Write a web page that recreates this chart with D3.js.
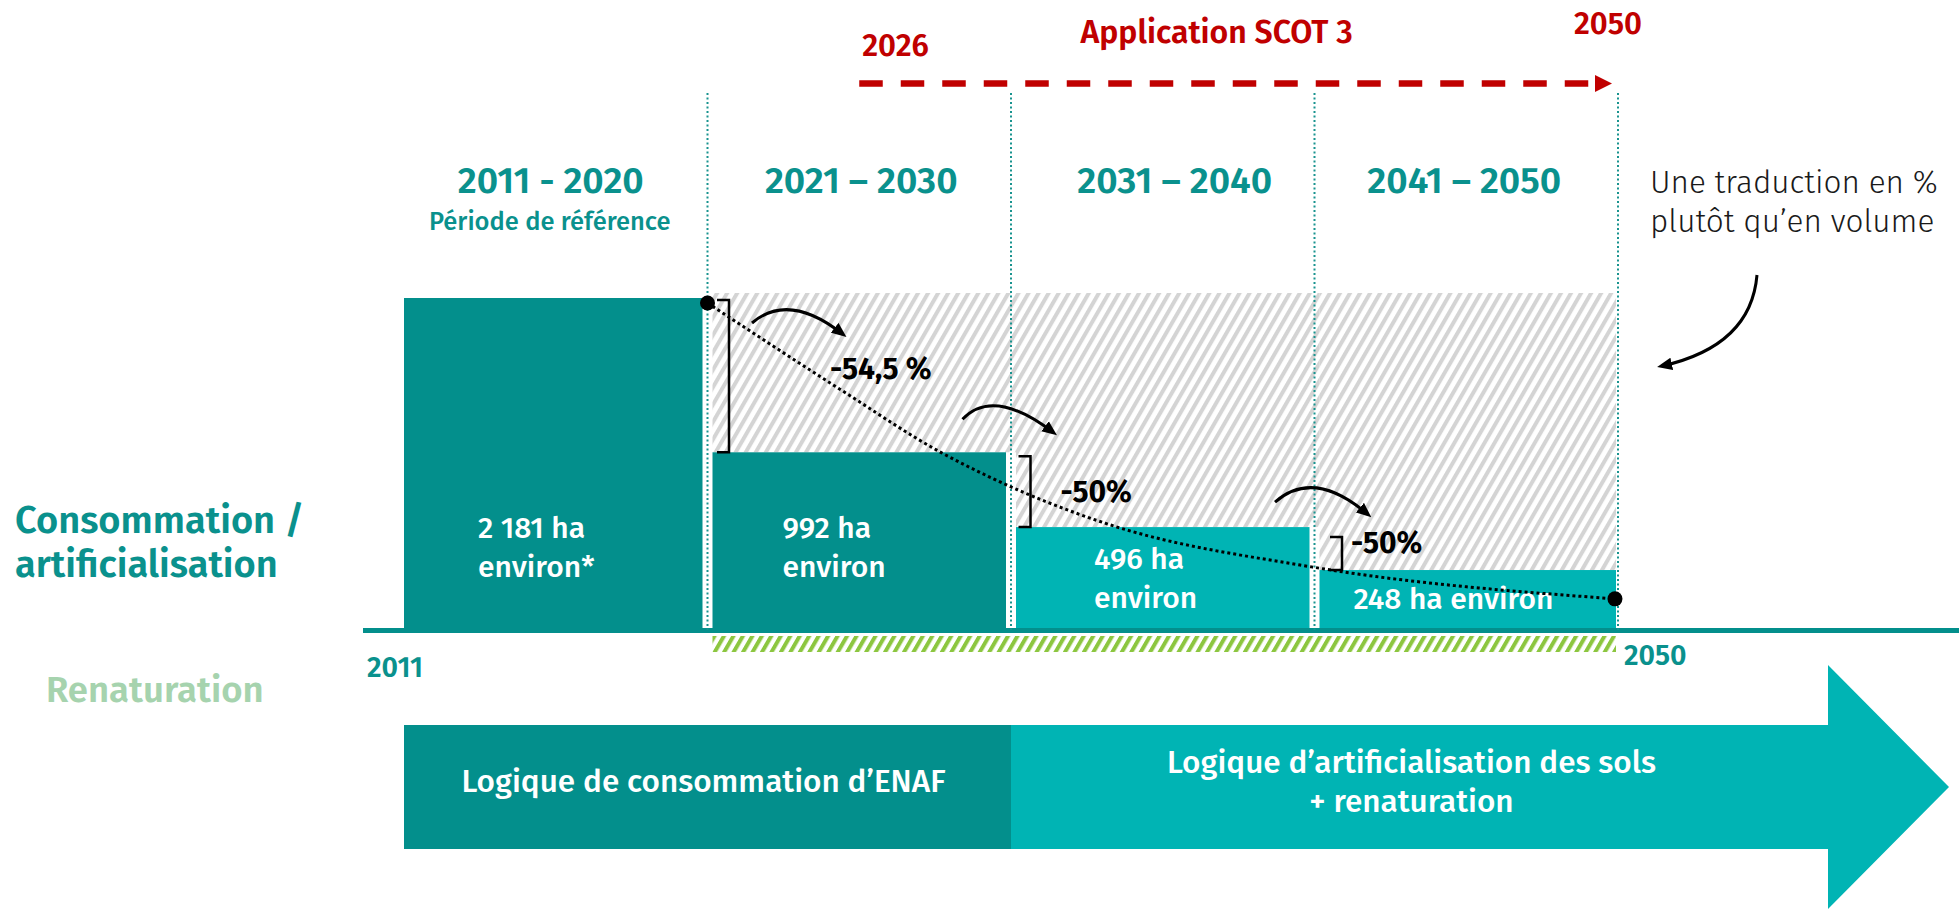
<!DOCTYPE html>
<html>
<head>
<meta charset="utf-8">
<script src="https://cdn.jsdelivr.net/npm/d3@7"></script>
<style>
    body { margin: 0; background: #fff; }
    svg { display: block; font-family: "Fira Sans", "Noto Sans", sans-serif; }
</style>
</head>
<body>
<svg width="1959" height="909"></svg>
<script>
// decades and consumption (ha)
const periodLabels = ["2011 - 2020", "2021 – 2030", "2031 – 2040", "2041 – 2050"];
const periodStart = [2011, 2021, 2031, 2041];
const periodEnd = [2021, 2031, 2041, 2051];
const hectares = [2181, 992, 496, 248];
const barText = [["2 181 ha", "environ*"], ["992 ha", "environ"], ["496 ha", "environ"], ["248 ha environ"]];
const reductions = ["-54,5 %", "-50%", "-50%"];

// dotted trend curve
const trendYears = [2021, 2025.4, 2028.7, 2030.3, 2034.1, 2040.9, 2050.9];
const trendValues = [2140, 1450, 990, 820, 520, 265, 105];

const scotYears = [2026, 2050];
const phaseYears = [2011, 2031];
const phaseText = [["Logique de consommation d’ENAF"], ["Logique d’artificialisation des sols", "+ renaturation"]];

function render_chart()
{
    let svg = d3.select("svg");
    let width = +svg.attr("width");

    let teal_dark = "#038f8c";
    let teal_light = "#00b4b4";
    let teal_text = "#0a918d";
    let red = "#c00000";

    let x = d3.scaleLinear().domain([2011, 2051]).range([404, 1618]);
    let y = d3.scalePow().exponent(0.8).domain([0, 2181]).range([628, 298]);
    let base = y(0);

    let defs = svg.append("defs");
    defs.append("pattern")
        .attr("id", "hatch-grey")
        .attr("patternUnits", "userSpaceOnUse")
        .attr("width", 8.7).attr("height", 20)
        .attr("patternTransform", "rotate(30)")
        .append("rect").attr("width", 4).attr("height", 20).attr("fill", "#d4d4d4");
    defs.append("pattern")
        .attr("id", "hatch-green")
        .attr("patternUnits", "userSpaceOnUse")
        .attr("width", 8.2).attr("height", 20)
        .attr("patternTransform", "rotate(30)")
        .append("rect").attr("width", 4).attr("height", 20).attr("fill", "#8cc63f");
    defs.append("marker")
        .attr("id", "head")
        .attr("viewBox", "0 -5 12 10")
        .attr("refX", 8).attr("refY", 0)
        .attr("markerUnits", "userSpaceOnUse")
        .attr("markerWidth", 15).attr("markerHeight", 13)
        .attr("orient", "auto")
        .append("path").attr("d", "M0,-5L12,0L0,5Z").attr("fill", "#000");

    let bx0 = i => x(periodStart[i]) + (i ? 5 : 0);
    let bx1 = i => x(periodEnd[i]) - (i < 3 ? 5 : 2);

    // hatched "reference level" behind the future decades
    let hatch_top = y(hectares[0]) - 5;
    svg.append("g")
        .selectAll("rect")
        .data(d3.range(1, 4))
        .join("rect")
            .attr("x", i => bx0(i))
            .attr("y", hatch_top)
            .attr("width", i => (i < 3 ? bx0(i + 1) : bx1(i)) - bx0(i))
            .attr("height", i => y(hectares[i]) - hatch_top)
            .attr("fill", "url(#hatch-grey)");

    // bars
    svg.append("g")
        .selectAll("rect")
        .data(hectares)
        .join("rect")
            .attr("x", (d, i) => bx0(i))
            .attr("y", d => y(d))
            .attr("width", (d, i) => bx1(i) - bx0(i))
            .attr("height", d => base - y(d))
            .attr("fill", (d, i) => i < 2 ? teal_dark : teal_light);

    // renaturation strip
    svg.append("rect")
        .attr("x", bx0(1)).attr("y", base + 8)
        .attr("width", bx1(3) - bx0(1)).attr("height", 16)
        .attr("fill", "url(#hatch-green)");

    // time axis
    svg.append("line")
        .attr("x1", x(2011) - 41).attr("x2", width)
        .attr("y1", base + 2.5).attr("y2", base + 2.5)
        .attr("stroke", teal_dark).attr("stroke-width", 5);

    svg.append("g")
        .attr("stroke", "#19938f")
        .attr("stroke-width", 2)
        .attr("stroke-dasharray", "2,2.5")
        .selectAll("line")
        .data(periodEnd)
        .join("line")
            .attr("x1", d => x(d)).attr("x2", d => x(d))
            .attr("y1", 93).attr("y2", base + 2);

    // bar labels
    svg.append("g")
        .attr("fill", "#fff")
        .attr("font-size", 30)
        .attr("font-weight", 500)
        .selectAll("text")
        .data(barText)
        .join("text")
            .attr("transform", (d, i) => {
                let c = Math.max((y(hectares[i]) + base) / 2, 547);
                let b = d.length > 1 ? c - 9 : (y(hectares[i]) + base) / 2 + 10;
                let dx = [74, 70, 78, 34][i];
                return `translate(${bx0(i) + dx},${b})`;
            })
            .selectAll("tspan")
            .data(d => d)
            .join("tspan")
                .attr("x", 0)
                .attr("y", (d, j) => j * 39)
                .text(d => d);

    // period headers
    let head = svg.append("g")
        .attr("fill", teal_text)
        .attr("font-weight", 600)
        .attr("text-anchor", "middle");
    head.selectAll("text")
        .data(periodLabels)
        .join("text")
            .attr("x", (d, i) => (x(periodStart[i]) + x(periodEnd[i])) / 2 + [-5, 2, 12, -2][i])
            .attr("y", 193)
            .attr("font-size", 37)
            .text(d => d);
    head.append("text")
        .attr("x", (x(2011) + x(2021)) / 2 - 6)
        .attr("y", 230)
        .attr("font-size", 25.5)
        .attr("font-weight", 500)
        .text("Période de référence");

    // SCOT 3 application window
    let scot = svg.append("g").attr("fill", red).attr("font-weight", 600);
    let sx0 = x(scotYears[0]), sx1 = x(scotYears[1] + 1);
    scot.append("line")
        .attr("x1", sx0).attr("x2", sx1 - 20)
        .attr("y1", 83.5).attr("y2", 83.5)
        .attr("stroke", red).attr("stroke-width", 6.5)
        .attr("stroke-dasharray", "23.5,18");
    scot.append("path")
        .attr("d", `M${sx1 - 23},75 L${sx1 - 6},83.5 L${sx1 - 23},92 Z`);
    scot.append("text")
        .attr("x", sx0 + 3).attr("y", 56)
        .attr("font-size", 31)
        .text(scotYears[0]);
    scot.append("text")
        .attr("x", sx1 - 10).attr("y", 34)
        .attr("text-anchor", "middle")
        .attr("font-size", 31)
        .text(scotYears[1]);
    scot.append("text")
        .attr("x", (sx0 + sx1) / 2 - 22).attr("y", 43)
        .attr("text-anchor", "middle")
        .attr("font-size", 32)
        .text("Application SCOT 3");

    // reductions: brackets, hop arrows, labels
    let steps = d3.range(3);
    let bracket_dx = [21.5, 19.5, 27.5];
    let bracket_pad = [2, 4, 10];
    let label_dx = [101, 30, 9];
    let label_dy = [4, 12, 4];
    let hops = [
        [[44.5, 25], [85.5, 12], [135, 36]],
        [[-48.5, -33], [-10.5, -46], [42, -20]],
        [[-39.5, -25], [3, -39], [53, -13]]
    ];

    let ann = svg.append("g");
    ann.selectAll("path.bracket")
        .data(steps)
        .join("path")
            .attr("class", "bracket")
            .attr("fill", "none")
            .attr("stroke", "#000")
            .attr("stroke-width", 2.5)
            .attr("d", i => {
                let bx = x(periodEnd[i]) + bracket_dx[i];
                let t = y(hectares[i]) + bracket_pad[i], b = y(hectares[i + 1]);
                return `M${bx - 12},${t} H${bx} V${b} H${bx - 12}`;
            });
    ann.selectAll("path.hop")
        .data(steps)
        .join("path")
            .attr("class", "hop")
            .attr("fill", "none")
            .attr("stroke", "#000")
            .attr("stroke-width", 3)
            .attr("marker-end", "url(#head)")
            .attr("d", i => {
                let ax = x(periodEnd[i]), ay = y(hectares[i]);
                let [s, p, t] = hops[i].map(([dx, dy]) => [ax + dx, ay + dy]);
                let c = [2 * p[0] - (s[0] + t[0]) / 2, 2 * p[1] - (s[1] + t[1]) / 2];
                return `M${s} Q${c} ${t}`;
            });
    ann.selectAll("text")
        .data(reductions)
        .join("text")
            .attr("x", (d, i) => x(periodEnd[i]) + bracket_dx[i] + label_dx[i])
            .attr("y", (d, i) => (y(hectares[i]) + y(hectares[i + 1])) / 2 + label_dy[i])
            .attr("font-size", 30)
            .attr("font-weight", 700)
            .attr("fill", "#000")
            .text(d => d);

    // dotted trend
    let trend = trendYears.map((d, i) => [x(d), y(trendValues[i])]);
    svg.append("path")
        .attr("d", d3.line().curve(d3.curveMonotoneX)(trend))
        .attr("fill", "none")
        .attr("stroke", "#000")
        .attr("stroke-width", 3)
        .attr("stroke-dasharray", "3,3");
    svg.append("g")
        .selectAll("circle")
        .data([trend[0], trend[trend.length - 1]])
        .join("circle")
            .attr("cx", d => d[0]).attr("cy", d => d[1])
            .attr("r", 7.5)
            .attr("fill", "#000");

    // side notes
    let note = svg.append("g").attr("fill", "#1a1a1a").attr("font-size", 31.5).attr("font-weight", 300);
    note.append("text").attr("x", 1650).attr("y", 193).text("Une traduction en %");
    note.append("text").attr("x", 1650).attr("y", 232).text("plutôt qu’en volume");
    svg.append("path")
        .attr("d", "M1757,275 Q1751,346 1662,366")
        .attr("fill", "none")
        .attr("stroke", "#000")
        .attr("stroke-width", 3)
        .attr("marker-end", "url(#head)");

    let side = svg.append("g").attr("font-weight", 600);
    side.append("text").attr("x", 15).attr("y", 533).attr("font-size", 38).attr("fill", teal_text).text("Consommation /");
    side.append("text").attr("x", 15).attr("y", 577).attr("font-size", 38).attr("fill", teal_text).text("artificialisation");
    side.append("text").attr("x", 46).attr("y", 702).attr("font-size", 36.5).attr("fill", "#a6d3ae").text("Renaturation");

    let years = svg.append("g").attr("fill", teal_text).attr("font-size", 28.5).attr("font-weight", 600);
    years.append("text").attr("x", x(2011) - 9).attr("y", 677).attr("text-anchor", "middle").text("2011");
    years.append("text").attr("x", x(2051) + 6).attr("y", 665).text("2050");

    // bottom phases
    let top = 725, bottom = 849, mid = (top + bottom) / 2;
    let p0 = x(phaseYears[0]), p1 = x(phaseYears[1]);
    let shaft_end = 1828, tip = 1949;
    svg.append("rect")
        .attr("x", p0).attr("y", top)
        .attr("width", p1 - p0).attr("height", bottom - top)
        .attr("fill", teal_dark);
    svg.append("path")
        .attr("d", `M${p1},${top} H${shaft_end} V${mid - 122} L${tip},${mid} L${shaft_end},${mid + 122} V${bottom} H${p1} Z`)
        .attr("fill", teal_light);

    let centers = [[(p0 + p1) / 2 - 4, 792], [(p1 + shaft_end) / 2 - 8, 773]];
    svg.append("g")
        .attr("fill", "#fff")
        .attr("font-size", 31.5)
        .attr("font-weight", 500)
        .attr("text-anchor", "middle")
        .selectAll("text")
        .data(phaseText)
        .join("text")
            .attr("transform", (d, i) => `translate(${centers[i][0]},${centers[i][1]})`)
            .selectAll("tspan")
            .data(d => d)
            .join("tspan")
                .attr("x", 0)
                .attr("y", (d, j) => j * 39)
                .text(d => d);
}

render_chart();
</script>
</body>
</html>
